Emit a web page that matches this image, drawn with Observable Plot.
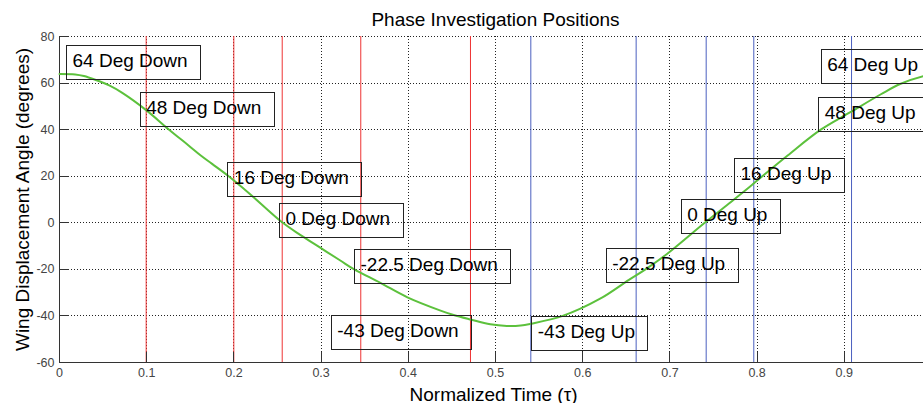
<!DOCTYPE html>
<html>
<head>
<meta charset="utf-8">
<script src="https://cdn.jsdelivr.net/npm/d3@7"></script>
<script src="https://cdn.jsdelivr.net/npm/@observablehq/plot@0.6"></script>
<style>
  html, body { margin: 0; padding: 0; background: #fff; overflow: hidden; }
  #chart svg { max-width: none !important; display: block; }
</style>
</head>
<body>
<div id="chart"></div>
<script>
// Wing displacement angle over one normalized stroke period
const curveTime = [0, 0.018, 0.028, 0.041, 0.057, 0.072, 0.099, 0.125, 0.148, 0.162, 0.175, 0.194, 0.218, 0.255, 0.276, 0.299, 0.322, 0.338, 0.368, 0.399, 0.437, 0.452, 0.471, 0.494, 0.513, 0.529, 0.540, 0.577, 0.620, 0.653, 0.672, 0.697, 0.741, 0.770, 0.792, 0.806, 0.835, 0.873, 0.907, 0.942, 0.964, 0.991, 1.0];
const curveAngle = [63.9, 63.7, 63.0, 61.4, 59.0, 55.8, 48.5, 40.2, 33.2, 28.9, 25.3, 20.0, 12.5, 0.3, -5.2, -10.7, -16.2, -20.0, -25.8, -32.0, -37.7, -39.6, -41.5, -43.6, -44.3, -44.1, -43.4, -40.0, -32.6, -24.5, -20.0, -13.3, 0.3, 8.9, 15.6, 20.0, 28.9, 40.0, 47.5, 55.2, 59.6, 63.0, 63.6];

// Investigation instants on the downstroke and the upstroke
const downTimes = [0.0994, 0.1999, 0.2554, 0.3455, 0.4713];
const upTimes = [0.5405, 0.6613, 0.7416, 0.7962, 0.9083];

// Position annotations (left edge of the text, vertical centre of the frame)
const labelText = ["64 Deg Down", "48 Deg Down", "16 Deg Down", "0 Deg Down", "-22.5 Deg Down", "-43 Deg Down",
                   "-43 Deg Up", "-22.5 Deg Up", "0 Deg Up", "16 Deg Up", "48 Deg Up", "64 Deg Up"];
const labelTime = [0.0149, 0.0994, 0.1999, 0.2592, 0.3452, 0.3185, 0.5485, 0.6338, 0.7198, 0.7810, 0.8776, 0.8804];
const labelAngle = [68.7, 48.7, 18.6, 1.1, -18.7, -47.2, -47.5, -18.4, 2.9, 20.3, 46.5, 67.0];

// Axis ticks
const xTicks = [0, 0.1, 0.2, 0.3, 0.4, 0.5, 0.6, 0.7, 0.8, 0.9];
const yTicks = [-60, -40, -20, 0, 20, 40, 60, 80];

const titleText = "Phase Investigation Positions";
const xLabel = "Normalized Time (\u03C4)";
const yLabel = "Wing Displacement Angle (degrees)";

const curve = curveTime.map((t, i) => ({t, angle: curveAngle[i]}));
const labels = labelText.map((text, i) => ({text, t: labelTime[i], angle: labelAngle[i]}));

const W = 931, H = 403, ML = 59, MR = 0, MT = 36, MB = 41;
const frameW = W - ML - MR, frameH = H - MT - MB;
const tickLen = 10;
const font = "'Liberation Sans', Arial, Helvetica, sans-serif";

const chart = Plot.plot({
  width: W,
  height: H,
  marginLeft: ML,
  marginRight: MR,
  marginTop: MT,
  marginBottom: MB,
  style: {fontFamily: font, background: "#fff", overflow: "visible"},
  x: {domain: [0, 1], axis: null},
  y: {domain: [-60, 80], axis: null},
  marks: [
    // dotted grid
    Plot.ruleX(xTicks.filter(d => d !== 0), {x: d => d, stroke: "#222", strokeDasharray: "1,2", shapeRendering: "crispEdges"}),
    Plot.ruleY(yTicks.filter(d => d !== -60), {y: d => d, stroke: "#222", strokeDasharray: "1,2", shapeRendering: "crispEdges"}),
    // phase instants
    Plot.ruleX(downTimes, {x: d => d, stroke: "#ee3333", strokeWidth: 1}),
    Plot.ruleX(upTimes, {x: d => d, stroke: "#4b5fbf", strokeWidth: 1}),
    // inward ticks
    Plot.ruleX(xTicks, {x: d => d, insetTop: frameH - tickLen, stroke: "#333", shapeRendering: "crispEdges"}),
    Plot.ruleY(yTicks, {y: d => d, insetRight: frameW - tickLen, stroke: "#333", shapeRendering: "crispEdges"}),
    // axis lines
    Plot.ruleX([0], {x: d => d, stroke: "#333", shapeRendering: "crispEdges"}),
    Plot.ruleY([-60], {y: d => d, stroke: "#333", shapeRendering: "crispEdges"}),
    // displacement curve
    Plot.line(curve, {x: "t", y: "angle", stroke: "#5cc13c", strokeWidth: 2, curve: "catmull-rom"}),
    // position annotations
    Plot.text(labels, {x: "t", y: "angle", text: "text", textAnchor: "start", lineAnchor: "middle",
      dy: -1.6, fontSize: 19, fill: "#000", ariaDescription: "phase labels"}),
    // tick labels
    Plot.text(xTicks, {x: d => d, frameAnchor: "bottom", text: d => String(d), textAnchor: "middle", lineAnchor: "top",
      dy: 6, fontSize: 12.5, fill: "#444"}),
    Plot.text(yTicks, {y: d => d, frameAnchor: "left", text: d => String(d), textAnchor: "end",
      lineAnchor: "middle", dx: -5, fontSize: 12.5, fill: "#444"}),
    // titles
    Plot.text([titleText], {frameAnchor: "top", text: d => d, textAnchor: "middle", lineAnchor: "middle",
      dy: -17, fontSize: 19, fill: "#000"}),
    Plot.text([xLabel], {frameAnchor: "bottom", text: d => d, textAnchor: "middle", lineAnchor: "middle",
      dy: 32, dx: -2, fontSize: 19, fill: "#000"}),
    Plot.text([yLabel], {frameAnchor: "left", text: d => d, rotate: -90, textAnchor: "middle", lineAnchor: "middle",
      dx: -37, fontSize: 19, fill: "#000"})
  ]
});

document.getElementById("chart").append(chart);

// Frame each position annotation with a thin box
const svgNS = "http://www.w3.org/2000/svg";
let labelGroup = chart.querySelector('g[aria-description="phase labels"]');
if (!labelGroup) {
  labelGroup = Array.from(chart.querySelectorAll("g")).find(g => g.querySelectorAll(":scope > text").length === labelText.length);
}
if (labelGroup) {
  labelGroup.querySelectorAll("text").forEach(t => {
    const b = t.getBBox();
    const r = document.createElementNS(svgNS, "rect");
    r.setAttribute("x", b.x - 6);
    r.setAttribute("y", b.y + b.height / 2 + 2 - 17);
    r.setAttribute("width", b.width + 19);
    r.setAttribute("height", 34);
    if (t.hasAttribute("transform")) r.setAttribute("transform", t.getAttribute("transform"));
    r.setAttribute("fill", "none");
    r.setAttribute("stroke", "#222");
    r.setAttribute("stroke-width", 1);
    r.setAttribute("shape-rendering", "crispEdges");
    labelGroup.insertBefore(r, t);
  });
}
</script>
</body>
</html>
